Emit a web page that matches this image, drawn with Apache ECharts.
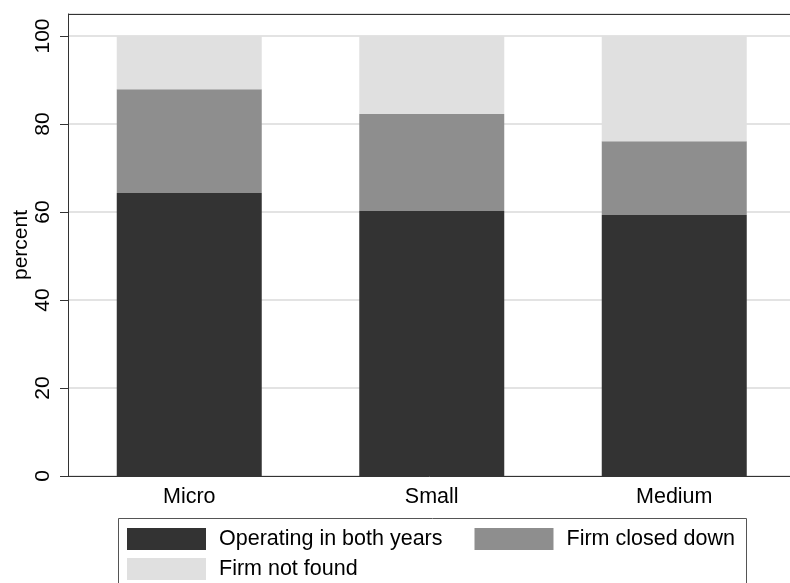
<!DOCTYPE html>
<html>
<head>
<meta charset="utf-8">
<script src="https://cdn.jsdelivr.net/npm/echarts@6/dist/echarts.min.js"></script>
<style>
html,body{margin:0;padding:0;background:#fff;}
#chart{width:790px;height:583px;}
</style>
</head>
<body>
<div id="chart"></div>
<script>
var categories = ['Micro', 'Small', 'Medium'];
var operating = [64.3, 60.2, 59.3];
var closedDown = [23.6, 22.1, 16.8];
var notFound = [12.1, 17.7, 23.9];
var yTicks = [0, 20, 40, 60, 80, 100];

var FONT = '"Liberation Sans", Arial, sans-serif';
var names = ['Operating in both years', 'Firm closed down', 'Firm not found'];
var colors = ['#333333', '#8e8e8e', '#e0e0e0'];

var chart = echarts.init(document.getElementById('chart'), null, {renderer: 'canvas'});
var legendCommon = {
  left: 127,
  padding: 0,
  itemWidth: 79,
  itemHeight: 22,
  itemGap: 32,
  icon: 'rect',
  selectedMode: false,
  textStyle: {fontFamily: FONT, fontSize: 21.5, color: '#000', padding: [0, 0, 0, 8]}
};
chart.setOption({
  animation: false,
  backgroundColor: '#fff',
  color: colors,
  grid: {
    left: 68, top: 14, right: -5.5, bottom: 107,
    outerBoundsMode: 'none',
    containLabel: false
  },
  legend: [
    Object.assign({top: 528, data: [names[0], names[1]]}, legendCommon),
    Object.assign({top: 558, data: [names[2]]}, legendCommon)
  ],
  graphic: [{
    type: 'rect',
    shape: {x: 118.5, y: 518.5, width: 628, height: 80},
    style: {fill: 'none', stroke: '#555', lineWidth: 1},
    z: 0
  }, {
    type: 'line',
    shape: {x1: 68, y1: 14.5, x2: 790, y2: 14.5},
    style: {stroke: '#333', lineWidth: 1},
    z: 100
  }],
  xAxis: {
    type: 'category',
    data: categories,
    axisLine: {lineStyle: {color: '#333', width: 1}},
    axisTick: {show: false},
    axisLabel: {fontFamily: FONT, fontSize: 21.5, color: '#000', margin: 10},
    splitLine: {show: false}
  },
  yAxis: {
    type: 'value',
    min: 0, max: 105, interval: 20,
    name: 'percent',
    nameLocation: 'middle',
    nameRotate: 90,
    nameGap: 36,
    nameMoveOverlap: false,
    nameTextStyle: {fontFamily: FONT, fontSize: 21, color: '#000'},
    axisLine: {show: true, lineStyle: {color: '#333', width: 1}},
    axisTick: {show: true, length: 8, lineStyle: {color: '#333'}},
    axisLabel: {
      rotate: 90, fontFamily: FONT, fontSize: 21, color: '#000', margin: 14,
      showMaxLabel: false,
      formatter: function (v) { return yTicks.indexOf(v) >= 0 ? String(v) : ''; }
    },
    splitLine: {show: true, lineStyle: {color: '#e3e3e3', width: 2}}
  },
  series: [
    {name: names[0], type: 'bar', stack: 'a', data: operating, barWidth: 145},
    {name: names[1], type: 'bar', stack: 'a', data: closedDown, barWidth: 145},
    {name: names[2], type: 'bar', stack: 'a', data: notFound, barWidth: 145}
  ]
});
</script>
</body>
</html>
